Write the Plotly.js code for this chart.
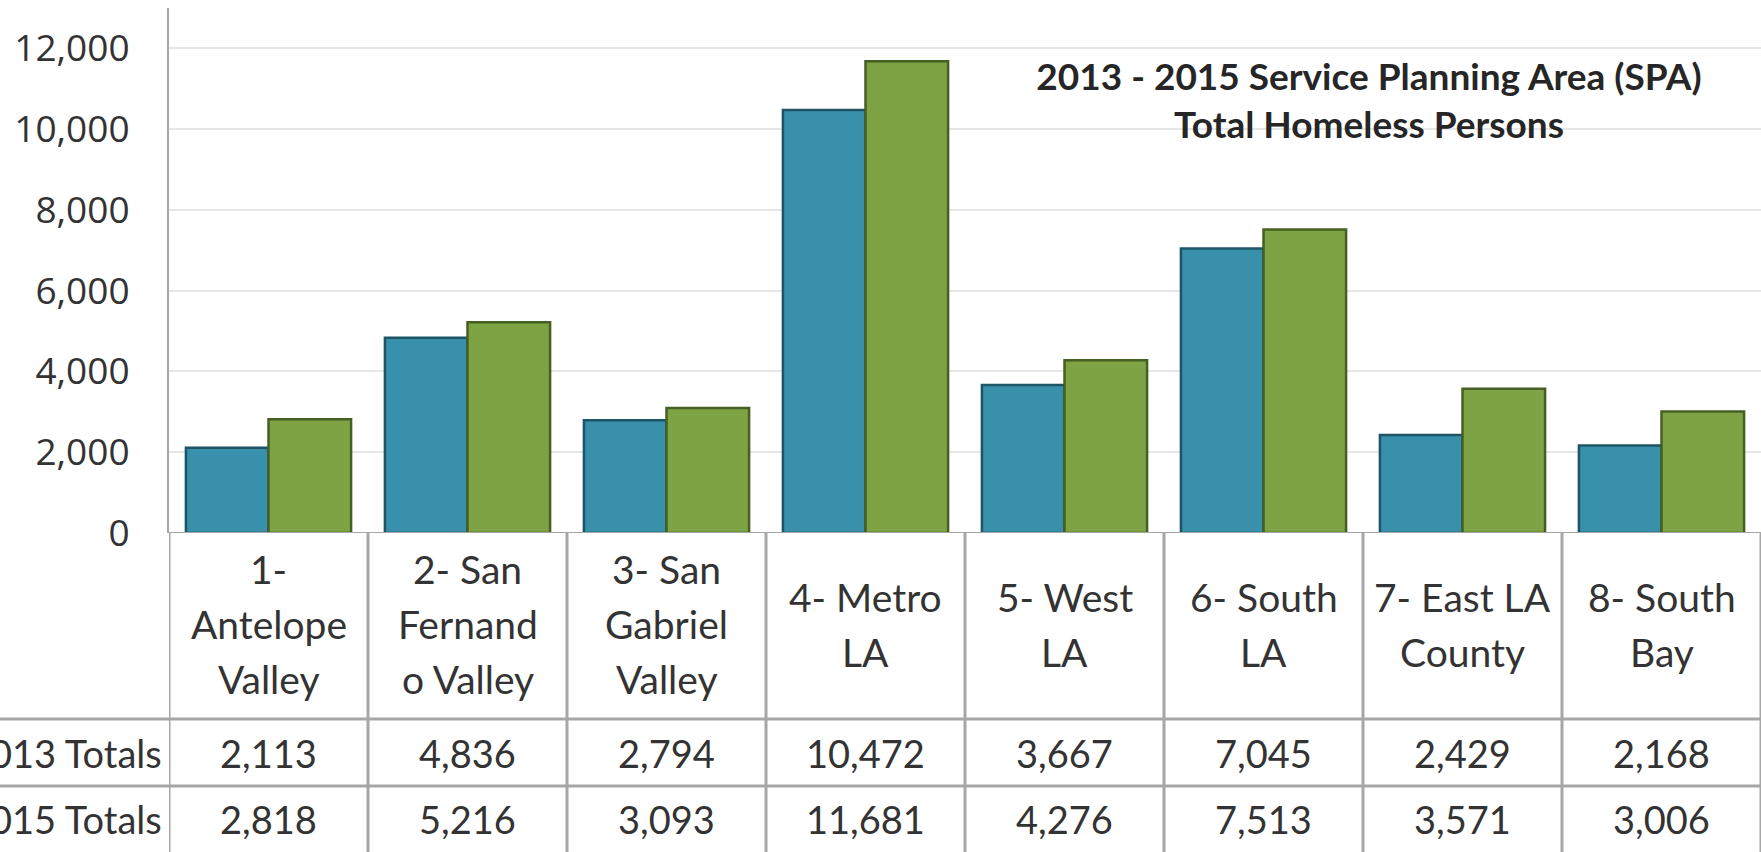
<!DOCTYPE html>
<html>
<head>
<meta charset="utf-8">
<script src="https://cdn.plot.ly/plotly-3.0.1.min.js"></script>
<style>
  html, body { margin: 0; padding: 0; background: #ffffff; }
  #chart { width: 1761px; height: 852px; }
</style>
</head>
<body>
<div id="chart"></div>
<script>
// ---- data ----
const categories = ['1- Antelope Valley', '2- San Fernando Valley', '3- San Gabriel Valley', '4- Metro LA', '5- West LA', '6- South LA', '7- East LA County', '8- South Bay'];
const categoryLabels = ['1-<br>Antelope<br>Valley', '2- San<br>Fernand<br>o Valley', '3- San<br>Gabriel<br>Valley', '4- Metro<br>LA', '5- West<br>LA', '6- South<br>LA', '7- East LA<br>County', '8- South<br>Bay'];
const totals2013 = [2113, 4836, 2794, 10472, 3667, 7045, 2429, 2168];
const totals2015 = [2818, 5216, 3093, 11681, 4276, 7513, 3571, 3006];
const rowLabels = ['2013 Totals', '2015 Totals'];
const chartTitle = '2013 - 2015 Service Planning Area (SPA)<br>Total Homeless Persons';

// ---- layout geometry (pixels) ----
const W = 1761, H = 852;
const plotLeft = 169, plotTop = 8, plotBottom = 533;
const plotH = plotBottom - plotTop, plotW = W - plotLeft;
const headerBottom = 719, row1Bottom = 786, row2Bottom = 852;
const headerLineStep = 55;
const py = px => (plotBottom - px) / plotH;      // pixel y -> paper y
const pxx = px => (px - plotLeft) / plotW;       // pixel x -> paper x

const tableFont = { family: 'Lato, "Liberation Sans", sans-serif', size: 39, color: '#333333' };
const numFont = { family: 'Lato, "Liberation Sans", sans-serif', size: 38, color: '#333333' };
const gridColor = '#a6a6a6';

const fmt = v => v.toLocaleString('en-US');

const annotations = [];
categories.forEach((c, i) => {
  const lines = categoryLabels[i].split('<br>');
  const mid = (plotBottom + headerBottom) / 2 - 2;
  lines.forEach((ln, k) => {
    const yc = mid + (k - (lines.length - 1) / 2) * headerLineStep;
    annotations.push({ xref: 'x', yref: 'paper', x: c, y: py(yc),
      text: ln, showarrow: false, xanchor: 'center', yanchor: 'middle', align: 'center', font: tableFont });
  });
  annotations.push({ xref: 'x', yref: 'paper', x: c, y: py((headerBottom + row1Bottom) / 2),
    text: fmt(totals2013[i]), showarrow: false, xanchor: 'center', yanchor: 'middle', font: numFont });
  annotations.push({ xref: 'x', yref: 'paper', x: c, y: py((row1Bottom + row2Bottom) / 2),
    text: fmt(totals2015[i]), showarrow: false, xanchor: 'center', yanchor: 'middle', font: numFont });
});
annotations.push({ xref: 'paper', yref: 'paper', x: pxx(164), y: py((headerBottom + row1Bottom) / 2),
  text: rowLabels[0], showarrow: false, xanchor: 'right', yanchor: 'middle', font: numFont });
annotations.push({ xref: 'paper', yref: 'paper', x: pxx(164), y: py((row1Bottom + row2Bottom) / 2),
  text: rowLabels[1], showarrow: false, xanchor: 'right', yanchor: 'middle', font: numFont });

const shapes = [];
// baseline
shapes.push({ type: 'line', xref: 'paper', yref: 'y', x0: 0, x1: 1, y0: 0, y1: 0, line: { color: gridColor, width: 2 } });
// horizontal table lines
[headerBottom, row1Bottom].forEach(yp => {
  shapes.push({ type: 'line', xref: 'paper', yref: 'paper', x0: pxx(0), x1: 1, y0: py(yp), y1: py(yp), line: { color: gridColor, width: 3 } });
});
// vertical table lines
for (let i = 0; i <= categories.length; i++) {
  shapes.push({ type: 'line', xref: 'x', yref: 'paper', x0: i - 0.5, x1: i - 0.5, y0: 0, y1: py(H + 2), line: { color: gridColor, width: 3 } });
}

const traces = [
  { type: 'bar', name: '2013', x: categories, y: totals2013,
    marker: { color: '#3990ab', line: { color: '#1d5566', width: 2.5 } } },
  { type: 'bar', name: '2015', x: categories, y: totals2015,
    marker: { color: '#7ea344', line: { color: '#465f22', width: 2.5 } } }
];

const layout = {
  width: W, height: H,
  margin: { l: plotLeft, r: 0, t: plotTop, b: H - plotBottom, pad: 0 },
  paper_bgcolor: '#ffffff', plot_bgcolor: '#ffffff',
  showlegend: false,
  barmode: 'group', bargap: 0.17, bargroupgap: 0,
  title: { text: '<b>' + chartTitle + '</b>', x: 1369 / W, xanchor: 'center', xref: 'container',
    y: 1 - 90 / H, yanchor: 'middle', yref: 'container',
    font: { family: 'Lato, "Liberation Sans", sans-serif', size: 37, color: '#262626' } },
  xaxis: { type: 'category', range: [-0.5, 7.5], showticklabels: false, showgrid: false, zeroline: false, showline: false, ticks: '' },
  yaxis: { range: [0, 13000], dtick: 2000, tickformat: ',d', showgrid: true, gridcolor: '#e6e6e6', gridwidth: 2,
    zeroline: false, showline: true, linecolor: gridColor, linewidth: 2, ticks: '', ticklabelstandoff: 30,
    tickfont: { family: '"Open Sans", sans-serif', size: 37, color: '#333333' } },
  annotations: annotations,
  shapes: shapes
};

Plotly.newPlot('chart', traces, layout, { staticPlot: true, displayModeBar: false });
</script>
</body>
</html>
